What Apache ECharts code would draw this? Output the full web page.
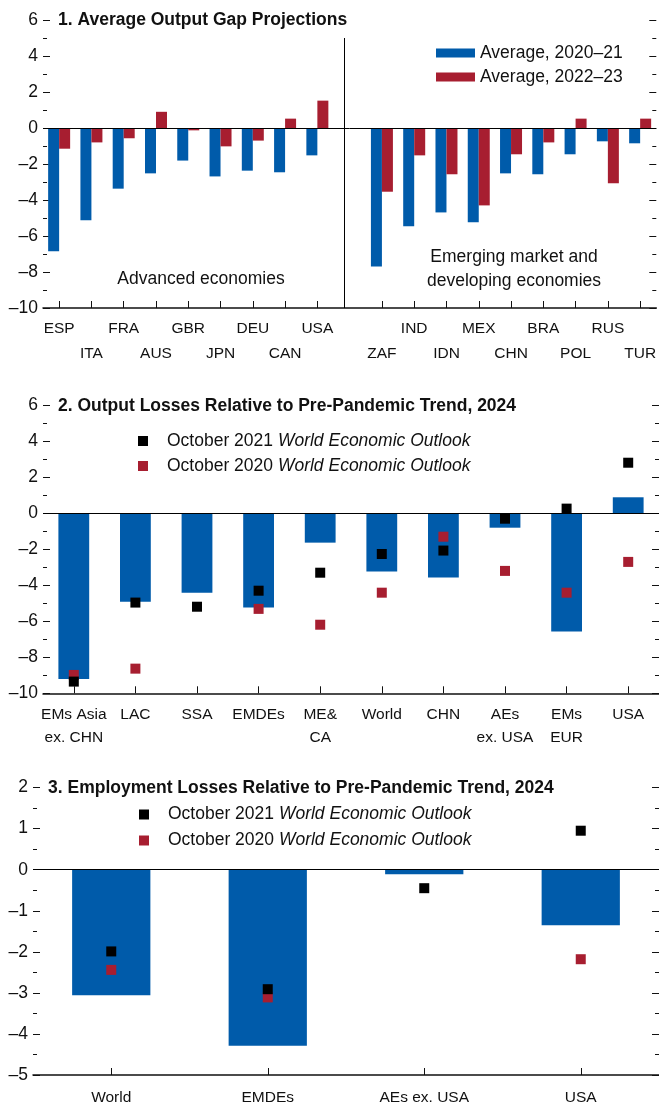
<!DOCTYPE html>
<html>
<head>
<meta charset="utf-8">
<script src="https://cdn.jsdelivr.net/npm/echarts@6/dist/echarts.min.js"></script>
<style>
html,body{margin:0;padding:0;background:#fff;}
#chart{width:659px;height:1109px;}
</style>
</head>
<body>
<div id="chart"></div>
<script>
// ---------- Panel 1 data ----------
const cats1 = ['ESP','ITA','FRA','AUS','GBR','JPN','DEU','CAN','USA','','ZAF','IND','IDN','MEX','CHN','BRA','POL','RUS','TUR'];
const avg2021 = [-6.85,-5.13,-3.37,-2.52,-1.81,-2.69,-2.37,-2.46,-1.52,null,-7.69,-5.46,-4.69,-5.24,-2.52,-2.57,-1.46,-0.74,-0.85];
const avg2223 = [-1.15,-0.80,-0.57,0.90,-0.13,-1.02,-0.70,0.52,1.52,null,-3.54,-1.52,-2.57,-4.30,-1.46,-0.80,0.52,-3.07,0.52];
const seriesNames1 = ['Average, 2020–21','Average, 2022–23'];
const groupLabels1 = ['Advanced economies','Emerging market and\ndeveloping economies'];
const ticks1 = {min:-10, max:6, interval:2};

// ---------- Panel 2 data ----------
const cats2 = ['EMs Asia\nex. CHN','LAC','SSA','EMDEs','ME&\nCA','World','CHN','AEs\nex. USA','EMs\nEUR','USA'];
const loss2 = [-9.20,-4.91,-4.41,-5.24,-1.63,-3.24,-3.57,-0.80,-6.57,0.89];
const weo21_2 = [-9.35,-4.96,-5.19,-4.30,-3.30,-2.26,-2.07,-0.30,0.26,2.81];
const weo20_2 = [-8.98,-8.63,'-',-5.31,-6.19,-4.41,-1.30,-3.20,-4.41,-2.70];
const ticks2 = {min:-10, max:6, interval:2};

// ---------- Panel 3 data ----------
const cats3 = ['World','EMDEs','AEs ex. USA','USA'];
const loss3 = [-3.06,-4.29,-0.11,-1.35];
const weo21_3 = [-1.99,-2.91,-0.45,0.95];
const weo20_3 = [-2.44,-3.11,'-',-2.18];
const ticks3 = {min:-5, max:2, interval:1};

const titles = ['1. Average Output Gap Projections','2. Output Losses Relative to Pre-Pandemic Trend, 2024','3. Employment Losses Relative to Pre-Pandemic Trend, 2024'];
const pub = 'World Economic Outlook';
const vintages = ['October 2021','October 2020'];
const weoNames = vintages.map(v => v + ' ' + pub);

// ---------- styling ----------
const FONT = "'Liberation Sans',Arial,sans-serif";
const BLUE = '#005BAA', RED = '#A71E30', BLACK = '#000000', TXT = '#111111';
const FS_TICK = 17.5, FS_CAT = 15.5, FS_LEG = 17.5, FS_TITLE = 17.5;

const chart = echarts.init(document.getElementById('chart'), null, {renderer:'canvas'});

const grids = [
  {left:43, right:0, top:20, height:288},
  {left:43, right:0, top:405.3, height:288},
  {left:33, right:0, top:787.6, height:288.4}
];

function dash(v){ return v < 0 ? '–' + Math.abs(v) : String(v); }

function yAxes(gi, t){
  const base = {
    type:'value', gridIndex:gi, min:t.min, max:t.max, interval:t.interval,
    axisLine:{show:false},
    axisTick:{show:true, inside:true, length:7, lineStyle:{color:TXT, width:1}},
    minorTick:{show:true, splitNumber:2, length:4, lineStyle:{color:TXT, width:1}},
    splitLine:{show:false}, minorSplitLine:{show:false}
  };
  return [
    Object.assign({}, base, {position:'left', axisLabel:{show:true, formatter:dash, fontFamily:FONT, fontSize:FS_TICK, color:TXT, margin:5}}),
    Object.assign({}, base, {position:'right', axisLabel:{show:false}})
  ];
}

function xAxis(gi, data, labelOpts, tickInterval){
  return {
    type:'category', gridIndex:gi, data:data,
    axisLine:{show:true, onZero:false, lineStyle:{color:TXT, width:1.5}},
    axisTick:{show:true, inside:true, length:7, alignWithLabel:true, interval:tickInterval || 0, lineStyle:{color:TXT, width:1}},
    axisLabel:Object.assign({interval:0, fontFamily:FONT, fontSize:FS_CAT, color:TXT}, labelOpts),
    splitLine:{show:false}
  };
}

const zeroLine = {
  silent:true, symbol:'none', animation:false,
  label:{show:false},
  lineStyle:{color:'#000', type:'solid', width:1}
};

const legendRich = {
  n:{fontFamily:FONT, fontSize:FS_LEG, color:TXT, padding:[0,0,0,14]},
  i:{fontFamily:FONT, fontSize:FS_LEG, color:TXT, fontStyle:'italic'}
};
function weoFormatter(name){
  return '{n|' + name.replace(' ' + pub, '') + ' }{i|' + pub + '}';
}

const option = {
  animation:false,
  backgroundColor:'#fff',
  title: titles.map((t, i) => ({
    text:t, left:[58,58,48][i], top:[9,395,777][i], padding:0,
    textStyle:{fontFamily:FONT, fontSize:FS_TITLE, fontWeight:'bold', color:TXT, lineHeight:22}
  })),
  legend:[
    {data:seriesNames1, orient:'vertical', left:436, top:41, itemWidth:39, itemHeight:9, itemGap:0, icon:'rect', padding:0,
     textStyle:{fontFamily:FONT, fontSize:FS_LEG, color:TXT, lineHeight:24}},
    {data:weoNames, orient:'vertical', left:138, top:428.5, itemWidth:10, itemHeight:10, itemGap:0, icon:'rect', padding:0,
     formatter:weoFormatter, textStyle:{lineHeight:25, rich:legendRich}},
    {data:weoNames, orient:'vertical', left:139, top:801.5, itemWidth:10, itemHeight:10, itemGap:0, icon:'rect', padding:0,
     formatter:weoFormatter, textStyle:{lineHeight:26, rich:legendRich}}
  ],
  grid:grids,
  xAxis:[
    xAxis(0, cats1, {
      margin:8, lineHeight:25,
      formatter:function(v, idx){
        const second = idx < 9 ? idx % 2 === 1 : idx % 2 === 0;
        return second ? '\n' + v : v;
      }
    }, function(idx, v){ return v !== ''; }),
    xAxis(1, cats2, {margin:10, lineHeight:23}),
    xAxis(2, cats3, {margin:11, lineHeight:23})
  ],
  yAxis:[].concat(yAxes(0, ticks1), yAxes(1, ticks2), yAxes(2, ticks3)),
  graphic:[
    {type:'text', x:201, y:279, silent:true,
     style:{text:groupLabels1[0], fontFamily:FONT, fontSize:FS_LEG, fill:TXT, align:'center', verticalAlign:'middle'}},
    {type:'text', x:514, y:269, silent:true,
     style:{text:groupLabels1[1], fontFamily:FONT, fontSize:FS_LEG, lineHeight:24, fill:TXT, align:'center', verticalAlign:'middle'}}
  ],
  series:[
    {name:seriesNames1[0], type:'bar', xAxisIndex:0, yAxisIndex:0, data:avg2021, barWidth:11, barGap:'0%',
     itemStyle:{color:BLUE},
     markLine:Object.assign({}, zeroLine, {data:[
       {yAxis:0},
       [{coord:[9, 5]}, {coord:[9, -10]}]
     ]})},
    {name:seriesNames1[1], type:'bar', xAxisIndex:0, yAxisIndex:0, data:avg2223, barWidth:11, barGap:'0%',
     itemStyle:{color:RED}},

    {name:'Output loss', type:'bar', xAxisIndex:1, yAxisIndex:2, data:loss2, barWidth:'50%',
     itemStyle:{color:BLUE},
     markLine:Object.assign({}, zeroLine, {data:[{yAxis:0}]})},
    {name:weoNames[1], type:'scatter', xAxisIndex:1, yAxisIndex:2, data:weo20_2, symbol:'rect', symbolSize:10, itemStyle:{color:RED, opacity:1}},
    {name:weoNames[0], type:'scatter', xAxisIndex:1, yAxisIndex:2, data:weo21_2, symbol:'rect', symbolSize:10, itemStyle:{color:BLACK, opacity:1}},

    {name:'Employment loss', type:'bar', xAxisIndex:2, yAxisIndex:4, data:loss3, barWidth:'50%',
     itemStyle:{color:BLUE},
     markLine:Object.assign({}, zeroLine, {data:[{yAxis:0}]})},
    {name:weoNames[1], type:'scatter', xAxisIndex:2, yAxisIndex:4, data:weo20_3, symbol:'rect', symbolSize:10, itemStyle:{color:RED, opacity:1}},
    {name:weoNames[0], type:'scatter', xAxisIndex:2, yAxisIndex:4, data:weo21_3, symbol:'rect', symbolSize:10, itemStyle:{color:BLACK, opacity:1}}
  ]
};
chart.setOption(option);
</script>
</body>
</html>
